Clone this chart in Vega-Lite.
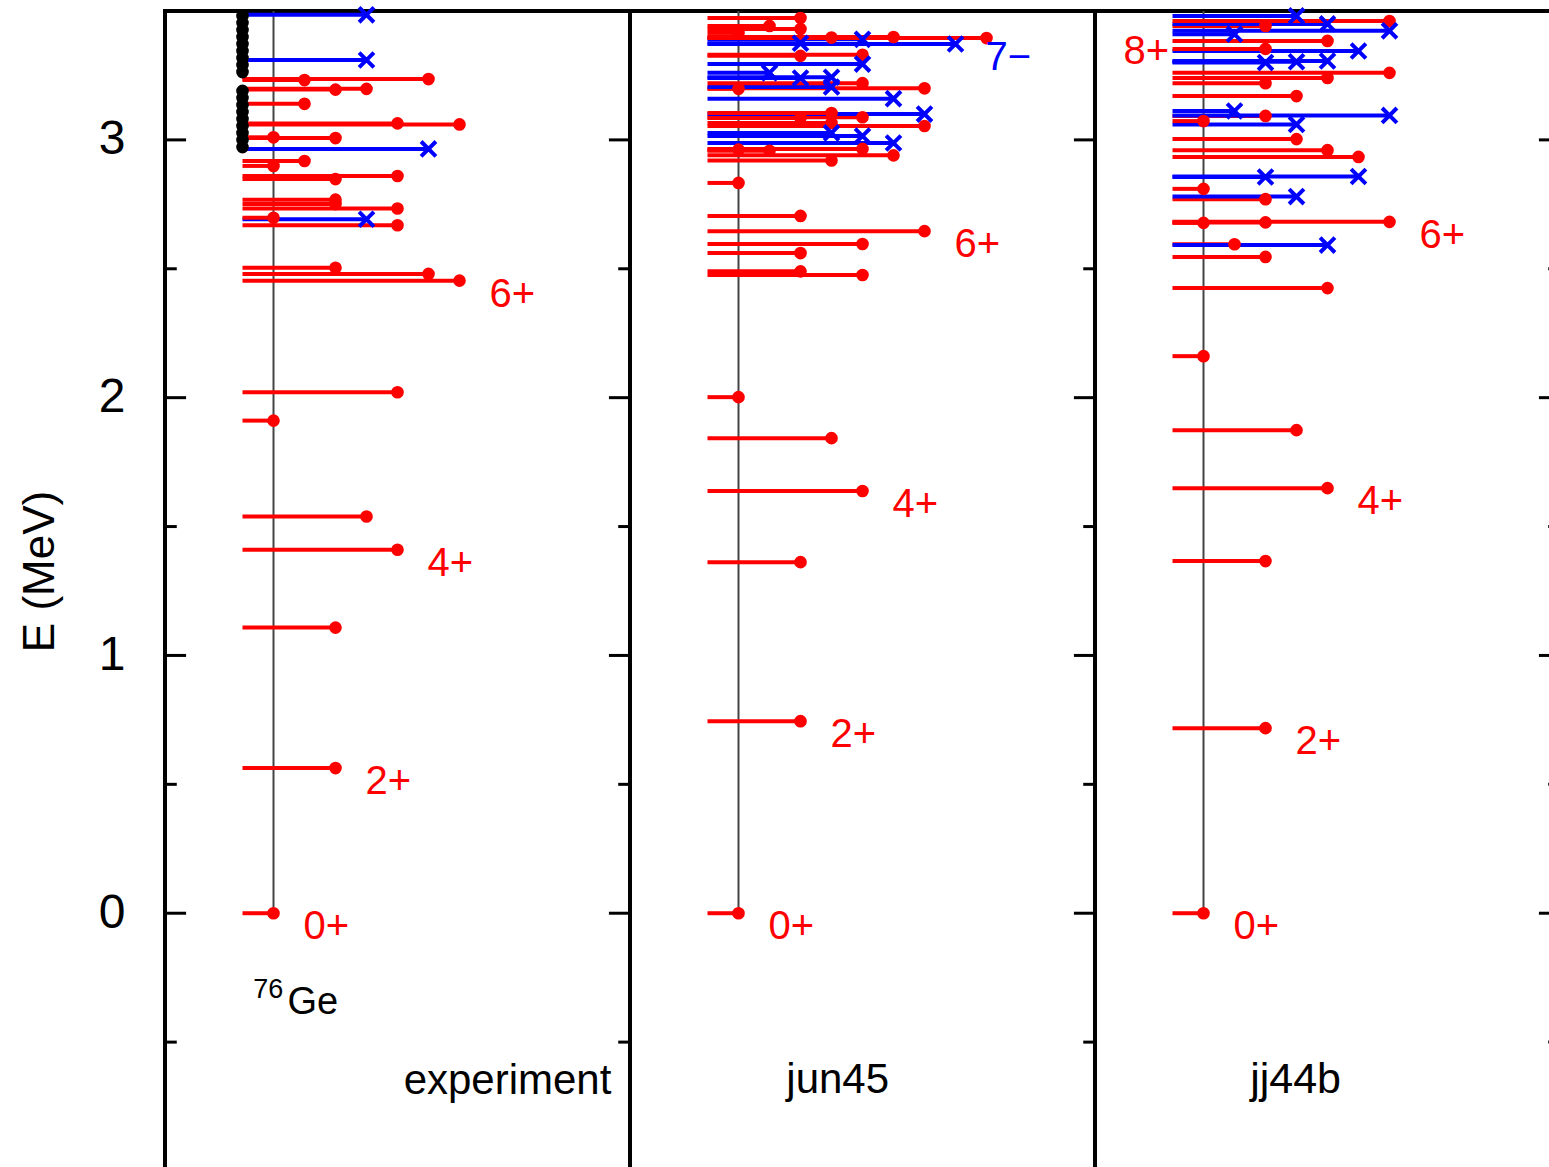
{
  "$schema": "https://vega.github.io/schema/vega-lite/v6.json",
  "padding": {"left": 16, "top": -3, "right": 0, "bottom": 0},
  "spacing": 0,
  "bounds": "flush",
  "config": {
    "view": {"stroke": "black", "strokeWidth": 4},
    "font": "Liberation Sans",
    "text": {"font": "Liberation Sans"},
    "axisY": {"ticks": false, "domain": false, "grid": false, "labelFontSize": 48, "labelPadding": 40, "labelColor": "black", "labelFont": "Liberation Sans", "titleFont": "Liberation Sans", "titleFontSize": 44, "titleFontWeight": "normal", "titleColor": "black", "titlePadding": 36, "titleY": 560}
  },
  "datasets": {
    "levels": [
      {"m":"exp","E":0,"J":0,"p":"+"},{"m":"exp","E":0.563,"J":2,"p":"+"},{"m":"exp","E":1.108,"J":2,"p":"+"},{"m":"exp","E":1.41,"J":4,"p":"+"},{"m":"exp","E":1.539,"J":3,"p":"+"},{"m":"exp","E":1.911,"J":0,"p":"+"},{"m":"exp","E":2.021,"J":4,"p":"+"},{"m":"exp","E":2.454,"J":6,"p":"+"},{"m":"exp","E":2.48,"J":5,"p":"+"},{"m":"exp","E":2.504,"J":2,"p":"+"},{"m":"exp","E":2.669,"J":4,"p":"+"},{"m":"exp","E":2.692,"J":3,"p":"-"},{"m":"exp","E":2.698,"J":0,"p":"+"},{"m":"exp","E":2.734,"J":4,"p":"+"},{"m":"exp","E":2.751,"J":2,"p":"+"},{"m":"exp","E":2.768,"J":2,"p":"+"},{"m":"exp","E":2.848,"J":2,"p":"+"},{"m":"exp","E":2.86,"J":4,"p":"+"},{"m":"exp","E":2.899,"J":0,"p":"+"},{"m":"exp","E":2.918,"J":1,"p":"+"},{"m":"exp","E":2.965,"J":5,"p":"-"},{"m":"exp","E":3.007,"J":2,"p":"+"},{"m":"exp","E":3.01,"J":0,"p":"+"},{"m":"exp","E":3.06,"J":6,"p":"+"},{"m":"exp","E":3.064,"J":4,"p":"+"},{"m":"exp","E":3.14,"J":1,"p":"+"},{"m":"exp","E":3.195,"J":2,"p":"+"},{"m":"exp","E":3.198,"J":3,"p":"+"},{"m":"exp","E":3.232,"J":1,"p":"+"},{"m":"exp","E":3.236,"J":5,"p":"+"},{"m":"exp","E":3.31,"J":3,"p":"-"},{"m":"exp","E":3.485,"J":3,"p":"-"},
      {"m":"exp","E":3.481,"J":-1,"p":"?"},{"m":"exp","E":3.454,"J":-1,"p":"?"},{"m":"exp","E":3.426,"J":-1,"p":"?"},{"m":"exp","E":3.399,"J":-1,"p":"?"},{"m":"exp","E":3.372,"J":-1,"p":"?"},{"m":"exp","E":3.345,"J":-1,"p":"?"},{"m":"exp","E":3.318,"J":-1,"p":"?"},{"m":"exp","E":3.291,"J":-1,"p":"?"},{"m":"exp","E":3.263,"J":-1,"p":"?"},{"m":"exp","E":3.19,"J":-1,"p":"?"},{"m":"exp","E":3.163,"J":-1,"p":"?"},{"m":"exp","E":3.135,"J":-1,"p":"?"},{"m":"exp","E":3.108,"J":-1,"p":"?"},{"m":"exp","E":3.081,"J":-1,"p":"?"},{"m":"exp","E":3.054,"J":-1,"p":"?"},{"m":"exp","E":3.027,"J":-1,"p":"?"},{"m":"exp","E":3.0,"J":-1,"p":"?"},{"m":"exp","E":2.972,"J":-1,"p":"?"},
      {"m":"jun","E":0,"J":0,"p":"+"},{"m":"jun","E":0.745,"J":2,"p":"+"},{"m":"jun","E":1.362,"J":2,"p":"+"},{"m":"jun","E":1.638,"J":4,"p":"+"},{"m":"jun","E":1.843,"J":3,"p":"+"},{"m":"jun","E":2.002,"J":0,"p":"+"},{"m":"jun","E":2.476,"J":4,"p":"+"},{"m":"jun","E":2.49,"J":2,"p":"+"},{"m":"jun","E":2.561,"J":2,"p":"+"},{"m":"jun","E":2.596,"J":4,"p":"+"},{"m":"jun","E":2.646,"J":6,"p":"+"},{"m":"jun","E":2.705,"J":2,"p":"+"},{"m":"jun","E":2.833,"J":0,"p":"+"},{"m":"jun","E":2.92,"J":3,"p":"+"},{"m":"jun","E":2.94,"J":5,"p":"+"},{"m":"jun","E":2.958,"J":1,"p":"+"},{"m":"jun","E":2.962,"J":0,"p":"+"},{"m":"jun","E":2.965,"J":4,"p":"+"},{"m":"jun","E":2.988,"J":5,"p":"-"},{"m":"jun","E":3.015,"J":4,"p":"-"},{"m":"jun","E":3.027,"J":3,"p":"-"},{"m":"jun","E":3.054,"J":6,"p":"+"},{"m":"jun","E":3.066,"J":3,"p":"+"},{"m":"jun","E":3.085,"J":2,"p":"+"},{"m":"jun","E":3.088,"J":4,"p":"+"},{"m":"jun","E":3.1,"J":6,"p":"-"},{"m":"jun","E":3.104,"J":3,"p":"+"},{"m":"jun","E":3.16,"J":5,"p":"-"},{"m":"jun","E":3.198,"J":0,"p":"+"},{"m":"jun","E":3.2,"J":6,"p":"+"},{"m":"jun","E":3.205,"J":3,"p":"-"},{"m":"jun","E":3.22,"J":4,"p":"+"},{"m":"jun","E":3.24,"J":2,"p":"-"},{"m":"jun","E":3.243,"J":3,"p":"-"},{"m":"jun","E":3.26,"J":1,"p":"-"},{"m":"jun","E":3.294,"J":4,"p":"-"},{"m":"jun","E":3.326,"J":2,"p":"+"},{"m":"jun","E":3.33,"J":4,"p":"+"},{"m":"jun","E":3.372,"J":7,"p":"-"},{"m":"jun","E":3.375,"J":2,"p":"-"},{"m":"jun","E":3.39,"J":4,"p":"-"},{"m":"jun","E":3.395,"J":8,"p":"+"},{"m":"jun","E":3.397,"J":3,"p":"+"},{"m":"jun","E":3.399,"J":5,"p":"+"},{"m":"jun","E":3.415,"J":0,"p":"+"},{"m":"jun","E":3.43,"J":2,"p":"+"},{"m":"jun","E":3.442,"J":1,"p":"+"},{"m":"jun","E":3.473,"J":2,"p":"+"},
      {"m":"jj","E":0,"J":0,"p":"+"},{"m":"jj","E":0.718,"J":2,"p":"+"},{"m":"jj","E":1.366,"J":2,"p":"+"},{"m":"jj","E":1.649,"J":4,"p":"+"},{"m":"jj","E":1.874,"J":3,"p":"+"},{"m":"jj","E":2.161,"J":0,"p":"+"},{"m":"jj","E":2.425,"J":4,"p":"+"},{"m":"jj","E":2.546,"J":2,"p":"+"},{"m":"jj","E":2.595,"J":1,"p":"+"},{"m":"jj","E":2.592,"J":4,"p":"-"},{"m":"jj","E":2.678,"J":0,"p":"+"},{"m":"jj","E":2.68,"J":2,"p":"+"},{"m":"jj","E":2.682,"J":6,"p":"+"},{"m":"jj","E":2.77,"J":2,"p":"+"},{"m":"jj","E":2.78,"J":3,"p":"-"},{"m":"jj","E":2.81,"J":0,"p":"+"},{"m":"jj","E":2.856,"J":2,"p":"-"},{"m":"jj","E":2.858,"J":5,"p":"-"},{"m":"jj","E":2.934,"J":5,"p":"+"},{"m":"jj","E":2.96,"J":4,"p":"+"},{"m":"jj","E":3.003,"J":3,"p":"+"},{"m":"jj","E":3.06,"J":3,"p":"-"},{"m":"jj","E":3.073,"J":0,"p":"+"},{"m":"jj","E":3.093,"J":2,"p":"+"},{"m":"jj","E":3.095,"J":6,"p":"-"},{"m":"jj","E":3.112,"J":1,"p":"-"},{"m":"jj","E":3.17,"J":3,"p":"+"},{"m":"jj","E":3.22,"J":2,"p":"+"},{"m":"jj","E":3.24,"J":4,"p":"+"},{"m":"jj","E":3.26,"J":6,"p":"+"},{"m":"jj","E":3.3,"J":2,"p":"-"},{"m":"jj","E":3.303,"J":3,"p":"-"},{"m":"jj","E":3.306,"J":4,"p":"-"},{"m":"jj","E":3.345,"J":5,"p":"-"},{"m":"jj","E":3.353,"J":2,"p":"+"},{"m":"jj","E":3.384,"J":4,"p":"+"},{"m":"jj","E":3.41,"J":1,"p":"-"},{"m":"jj","E":3.423,"J":6,"p":"-"},{"m":"jj","E":3.442,"J":2,"p":"+"},{"m":"jj","E":3.45,"J":4,"p":"-"},{"m":"jj","E":3.461,"J":6,"p":"+"},{"m":"jj","E":3.481,"J":3,"p":"-"}
    ],
    "labels": [
      {"m":"exp","t":"0+","J":0,"E":0,"p":"+"},{"m":"exp","t":"2+","J":2,"E":0.563,"p":"+"},{"m":"exp","t":"4+","J":4,"E":1.41,"p":"+"},{"m":"exp","t":"6+","J":6,"E":2.454,"p":"+"},
      {"m":"jun","t":"0+","J":0,"E":0,"p":"+"},{"m":"jun","t":"2+","J":2,"E":0.745,"p":"+"},{"m":"jun","t":"4+","J":4,"E":1.638,"p":"+"},{"m":"jun","t":"6+","J":6,"E":2.646,"p":"+"},{"m":"jun","t":"7−","J":7,"E":3.372,"p":"-"},
      {"m":"jj","t":"0+","J":0,"E":0,"p":"+"},{"m":"jj","t":"2+","J":2,"E":0.718,"p":"+"},{"m":"jj","t":"4+","J":4,"E":1.649,"p":"+"},{"m":"jj","t":"6+","J":6,"E":2.682,"p":"+"},{"m":"jj","t":"8+","J":-3.55,"E":3.395,"p":"+"}
    ],
    "majorTicks": [{"E":0},{"E":1},{"E":2},{"E":3}],
    "minorTicks": [{"E":-0.5},{"E":0.5},{"E":1.5},{"E":2.5}]
  },
  "hconcat": [
    {
      "width": 465, "height": 1160,
      "layer": [
        {"data":{"values":[{}]},"mark":{"type":"rule","color":"#444444","strokeWidth":2},
         "encoding":{"x":{"datum":0,"type":"quantitative","scale":{"domain":[-3.5,11.5],"nice":false,"zero":false},"axis":null},
                     "y":{"datum":0,"type":"quantitative","scale":{"domain":[-1,3.5],"nice":false,"zero":false},"axis":{"title":"E (MeV)","values":[0,1,2,3]}},"y2":{"datum":3.5}}},
        {"data":{"name":"levels"},"transform":[{"filter":"datum.m==='exp'"}],"mark":{"type":"rule","strokeWidth":4},
         "encoding":{"x":{"field":"J","type":"quantitative","scale":{"domain":[-3.5,11.5],"nice":false,"zero":false},"axis":null},"x2":{"datum":-1},
                     "y":{"field":"E","type":"quantitative","scale":{"domain":[-1,3.5],"nice":false,"zero":false},"axis":{"title":"E (MeV)","values":[0,1,2,3]}},
                     "color":{"field":"p","type":"nominal","scale":{"domain":["+","-","?"],"range":["#ff0000","#0000ff","#000000"]},"legend":null}}},
        {"data":{"name":"levels"},"transform":[{"filter":"datum.m==='exp' && datum.p!=='-'"}],"mark":{"type":"point","shape":"circle","filled":true,"size":160,"opacity":1},
         "encoding":{"x":{"field":"J","type":"quantitative","scale":{"domain":[-3.5,11.5],"nice":false,"zero":false},"axis":null},
                     "y":{"field":"E","type":"quantitative","scale":{"domain":[-1,3.5],"nice":false,"zero":false},"axis":{"title":"E (MeV)","values":[0,1,2,3]}},
                     "color":{"field":"p","type":"nominal","scale":{"domain":["+","-","?"],"range":["#ff0000","#0000ff","#000000"]},"legend":null}}},
        {"data":{"name":"levels"},"transform":[{"filter":"datum.m==='exp' && datum.p==='-'"}],"mark":{"type":"point","shape":"M-1,-1L1,1M-1,1L1,-1","filled":false,"strokeWidth":4,"size":220,"opacity":1},
         "encoding":{"x":{"field":"J","type":"quantitative","scale":{"domain":[-3.5,11.5],"nice":false,"zero":false},"axis":null},
                     "y":{"field":"E","type":"quantitative","scale":{"domain":[-1,3.5],"nice":false,"zero":false},"axis":{"title":"E (MeV)","values":[0,1,2,3]}},
                     "color":{"field":"p","type":"nominal","scale":{"domain":["+","-","?"],"range":["#ff0000","#0000ff","#000000"]},"legend":null}}},
        {"data":{"name":"labels"},"transform":[{"filter":"datum.m==='exp'"}],"mark":{"type":"text","align":"left","baseline":"middle","dx":30,"dy":14,"fontSize":40},
         "encoding":{"x":{"field":"J","type":"quantitative","scale":{"domain":[-3.5,11.5],"nice":false,"zero":false},"axis":null},
                     "y":{"field":"E","type":"quantitative","scale":{"domain":[-1,3.5],"nice":false,"zero":false},"axis":{"title":"E (MeV)","values":[0,1,2,3]}},
                     "text":{"field":"t"},
                     "color":{"field":"p","type":"nominal","scale":{"domain":["+","-","?"],"range":["#ff0000","#0000ff","#000000"]},"legend":null}}},
        {"data":{"values":[{"t":"experiment","J":10.9,"E":-0.7}]},"mark":{"type":"text","align":"right","baseline":"alphabetic","fontSize":42,"color":"black"},
         "encoding":{"x":{"field":"J","type":"quantitative","scale":{"domain":[-3.5,11.5],"nice":false,"zero":false},"axis":null},
                     "y":{"field":"E","type":"quantitative","scale":{"domain":[-1,3.5],"nice":false,"zero":false},"axis":{"title":"E (MeV)","values":[0,1,2,3]}},"text":{"field":"t"}}},
        {"data":{"values":[{"t":"76","J":-0.65,"E":-0.33}]},"mark":{"type":"text","align":"left","baseline":"alphabetic","fontSize":27,"color":"black"},
         "encoding":{"x":{"field":"J","type":"quantitative","scale":{"domain":[-3.5,11.5],"nice":false,"zero":false},"axis":null},
                     "y":{"field":"E","type":"quantitative","scale":{"domain":[-1,3.5],"nice":false,"zero":false},"axis":{"title":"E (MeV)","values":[0,1,2,3]}},"text":{"field":"t"}}},
        {"data":{"values":[{"t":"Ge","J":0.45,"E":-0.392}]},"mark":{"type":"text","align":"left","baseline":"alphabetic","fontSize":38,"color":"black"},
         "encoding":{"x":{"field":"J","type":"quantitative","scale":{"domain":[-3.5,11.5],"nice":false,"zero":false},"axis":null},
                     "y":{"field":"E","type":"quantitative","scale":{"domain":[-1,3.5],"nice":false,"zero":false},"axis":{"title":"E (MeV)","values":[0,1,2,3]}},"text":{"field":"t"}}},
        {"data":{"name":"majorTicks"},"mark":{"type":"rule","color":"black","strokeWidth":3},
         "encoding":{"x":{"datum":11.5,"type":"quantitative","scale":{"domain":[-3.5,11.5],"nice":false,"zero":false},"axis":null},"x2":{"datum":10.82},
                     "y":{"field":"E","type":"quantitative","scale":{"domain":[-1,3.5],"nice":false,"zero":false},"axis":{"title":"E (MeV)","values":[0,1,2,3]}}}},
        {"data":{"name":"minorTicks"},"mark":{"type":"rule","color":"black","strokeWidth":3},
         "encoding":{"x":{"datum":11.5,"type":"quantitative","scale":{"domain":[-3.5,11.5],"nice":false,"zero":false},"axis":null},"x2":{"datum":11.12},
                     "y":{"field":"E","type":"quantitative","scale":{"domain":[-1,3.5],"nice":false,"zero":false},"axis":{"title":"E (MeV)","values":[0,1,2,3]}}}},
        {"data":{"name":"majorTicks"},"mark":{"type":"rule","color":"black","strokeWidth":3},
         "encoding":{"x":{"datum":-3.5,"type":"quantitative","scale":{"domain":[-3.5,11.5],"nice":false,"zero":false},"axis":null},"x2":{"datum":-2.82},
                     "y":{"field":"E","type":"quantitative","scale":{"domain":[-1,3.5],"nice":false,"zero":false},"axis":{"title":"E (MeV)","values":[0,1,2,3]}}}},
        {"data":{"name":"minorTicks"},"mark":{"type":"rule","color":"black","strokeWidth":3},
         "encoding":{"x":{"datum":-3.5,"type":"quantitative","scale":{"domain":[-3.5,11.5],"nice":false,"zero":false},"axis":null},"x2":{"datum":-3.12},
                     "y":{"field":"E","type":"quantitative","scale":{"domain":[-1,3.5],"nice":false,"zero":false},"axis":{"title":"E (MeV)","values":[0,1,2,3]}}}}
      ]
    },
    {
      "width": 465, "height": 1160,
      "layer": [
        {"data":{"values":[{}]},"mark":{"type":"rule","color":"#444444","strokeWidth":2},
         "encoding":{"x":{"datum":0,"type":"quantitative","scale":{"domain":[-3.5,11.5],"nice":false,"zero":false},"axis":null},
                     "y":{"datum":0,"type":"quantitative","scale":{"domain":[-1,3.5],"nice":false,"zero":false},"axis":null},"y2":{"datum":3.5}}},
        {"data":{"name":"levels"},"transform":[{"filter":"datum.m==='jun'"}],"mark":{"type":"rule","strokeWidth":4},
         "encoding":{"x":{"field":"J","type":"quantitative","scale":{"domain":[-3.5,11.5],"nice":false,"zero":false},"axis":null},"x2":{"datum":-1},
                     "y":{"field":"E","type":"quantitative","scale":{"domain":[-1,3.5],"nice":false,"zero":false},"axis":null},
                     "color":{"field":"p","type":"nominal","scale":{"domain":["+","-","?"],"range":["#ff0000","#0000ff","#000000"]},"legend":null}}},
        {"data":{"name":"levels"},"transform":[{"filter":"datum.m==='jun' && datum.p!=='-'"}],"mark":{"type":"point","shape":"circle","filled":true,"size":160,"opacity":1},
         "encoding":{"x":{"field":"J","type":"quantitative","scale":{"domain":[-3.5,11.5],"nice":false,"zero":false},"axis":null},
                     "y":{"field":"E","type":"quantitative","scale":{"domain":[-1,3.5],"nice":false,"zero":false},"axis":null},
                     "color":{"field":"p","type":"nominal","scale":{"domain":["+","-","?"],"range":["#ff0000","#0000ff","#000000"]},"legend":null}}},
        {"data":{"name":"levels"},"transform":[{"filter":"datum.m==='jun' && datum.p==='-'"}],"mark":{"type":"point","shape":"M-1,-1L1,1M-1,1L1,-1","filled":false,"strokeWidth":4,"size":220,"opacity":1},
         "encoding":{"x":{"field":"J","type":"quantitative","scale":{"domain":[-3.5,11.5],"nice":false,"zero":false},"axis":null},
                     "y":{"field":"E","type":"quantitative","scale":{"domain":[-1,3.5],"nice":false,"zero":false},"axis":null},
                     "color":{"field":"p","type":"nominal","scale":{"domain":["+","-","?"],"range":["#ff0000","#0000ff","#000000"]},"legend":null}}},
        {"data":{"name":"labels"},"transform":[{"filter":"datum.m==='jun'"}],"mark":{"type":"text","align":"left","baseline":"middle","dx":30,"dy":14,"fontSize":40},
         "encoding":{"x":{"field":"J","type":"quantitative","scale":{"domain":[-3.5,11.5],"nice":false,"zero":false},"axis":null},
                     "y":{"field":"E","type":"quantitative","scale":{"domain":[-1,3.5],"nice":false,"zero":false},"axis":null},
                     "text":{"field":"t"},
                     "color":{"field":"p","type":"nominal","scale":{"domain":["+","-","?"],"range":["#ff0000","#0000ff","#000000"]},"legend":null}}},
        {"data":{"values":[{"t":"jun45","J":3.2,"E":-0.698}]},"mark":{"type":"text","align":"center","baseline":"alphabetic","fontSize":42,"color":"black"},
         "encoding":{"x":{"field":"J","type":"quantitative","scale":{"domain":[-3.5,11.5],"nice":false,"zero":false},"axis":null},
                     "y":{"field":"E","type":"quantitative","scale":{"domain":[-1,3.5],"nice":false,"zero":false},"axis":null},"text":{"field":"t"}}},
        {"data":{"name":"majorTicks"},"mark":{"type":"rule","color":"black","strokeWidth":3},
         "encoding":{"x":{"datum":11.5,"type":"quantitative","scale":{"domain":[-3.5,11.5],"nice":false,"zero":false},"axis":null},"x2":{"datum":10.82},
                     "y":{"field":"E","type":"quantitative","scale":{"domain":[-1,3.5],"nice":false,"zero":false},"axis":null}}},
        {"data":{"name":"minorTicks"},"mark":{"type":"rule","color":"black","strokeWidth":3},
         "encoding":{"x":{"datum":11.5,"type":"quantitative","scale":{"domain":[-3.5,11.5],"nice":false,"zero":false},"axis":null},"x2":{"datum":11.12},
                     "y":{"field":"E","type":"quantitative","scale":{"domain":[-1,3.5],"nice":false,"zero":false},"axis":null}}}
      ]
    },
    {
      "width": 465, "height": 1160,
      "layer": [
        {"data":{"values":[{}]},"mark":{"type":"rule","color":"#444444","strokeWidth":2},
         "encoding":{"x":{"datum":0,"type":"quantitative","scale":{"domain":[-3.5,11.5],"nice":false,"zero":false},"axis":null},
                     "y":{"datum":0,"type":"quantitative","scale":{"domain":[-1,3.5],"nice":false,"zero":false},"axis":null},"y2":{"datum":3.5}}},
        {"data":{"name":"levels"},"transform":[{"filter":"datum.m==='jj'"}],"mark":{"type":"rule","strokeWidth":4},
         "encoding":{"x":{"field":"J","type":"quantitative","scale":{"domain":[-3.5,11.5],"nice":false,"zero":false},"axis":null},"x2":{"datum":-1},
                     "y":{"field":"E","type":"quantitative","scale":{"domain":[-1,3.5],"nice":false,"zero":false},"axis":null},
                     "color":{"field":"p","type":"nominal","scale":{"domain":["+","-","?"],"range":["#ff0000","#0000ff","#000000"]},"legend":null}}},
        {"data":{"name":"levels"},"transform":[{"filter":"datum.m==='jj' && datum.p!=='-'"}],"mark":{"type":"point","shape":"circle","filled":true,"size":160,"opacity":1},
         "encoding":{"x":{"field":"J","type":"quantitative","scale":{"domain":[-3.5,11.5],"nice":false,"zero":false},"axis":null},
                     "y":{"field":"E","type":"quantitative","scale":{"domain":[-1,3.5],"nice":false,"zero":false},"axis":null},
                     "color":{"field":"p","type":"nominal","scale":{"domain":["+","-","?"],"range":["#ff0000","#0000ff","#000000"]},"legend":null}}},
        {"data":{"name":"levels"},"transform":[{"filter":"datum.m==='jj' && datum.p==='-'"}],"mark":{"type":"point","shape":"M-1,-1L1,1M-1,1L1,-1","filled":false,"strokeWidth":4,"size":220,"opacity":1},
         "encoding":{"x":{"field":"J","type":"quantitative","scale":{"domain":[-3.5,11.5],"nice":false,"zero":false},"axis":null},
                     "y":{"field":"E","type":"quantitative","scale":{"domain":[-1,3.5],"nice":false,"zero":false},"axis":null},
                     "color":{"field":"p","type":"nominal","scale":{"domain":["+","-","?"],"range":["#ff0000","#0000ff","#000000"]},"legend":null}}},
        {"data":{"name":"labels"},"transform":[{"filter":"datum.m==='jj'"}],"mark":{"type":"text","align":"left","baseline":"middle","dx":30,"dy":14,"fontSize":40},
         "encoding":{"x":{"field":"J","type":"quantitative","scale":{"domain":[-3.5,11.5],"nice":false,"zero":false},"axis":null},
                     "y":{"field":"E","type":"quantitative","scale":{"domain":[-1,3.5],"nice":false,"zero":false},"axis":null},
                     "text":{"field":"t"},
                     "color":{"field":"p","type":"nominal","scale":{"domain":["+","-","?"],"range":["#ff0000","#0000ff","#000000"]},"legend":null}}},
        {"data":{"values":[{"t":"jj44b","J":2.97,"E":-0.698}]},"mark":{"type":"text","align":"center","baseline":"alphabetic","fontSize":43,"color":"black"},
         "encoding":{"x":{"field":"J","type":"quantitative","scale":{"domain":[-3.5,11.5],"nice":false,"zero":false},"axis":null},
                     "y":{"field":"E","type":"quantitative","scale":{"domain":[-1,3.5],"nice":false,"zero":false},"axis":null},"text":{"field":"t"}}},
        {"data":{"name":"majorTicks"},"mark":{"type":"rule","color":"black","strokeWidth":3},
         "encoding":{"x":{"datum":11.5,"type":"quantitative","scale":{"domain":[-3.5,11.5],"nice":false,"zero":false},"axis":null},"x2":{"datum":10.82},
                     "y":{"field":"E","type":"quantitative","scale":{"domain":[-1,3.5],"nice":false,"zero":false},"axis":null}}},
        {"data":{"name":"minorTicks"},"mark":{"type":"rule","color":"black","strokeWidth":3},
         "encoding":{"x":{"datum":11.5,"type":"quantitative","scale":{"domain":[-3.5,11.5],"nice":false,"zero":false},"axis":null},"x2":{"datum":11.12},
                     "y":{"field":"E","type":"quantitative","scale":{"domain":[-1,3.5],"nice":false,"zero":false},"axis":null}}}
      ]
    }
  ]
}
